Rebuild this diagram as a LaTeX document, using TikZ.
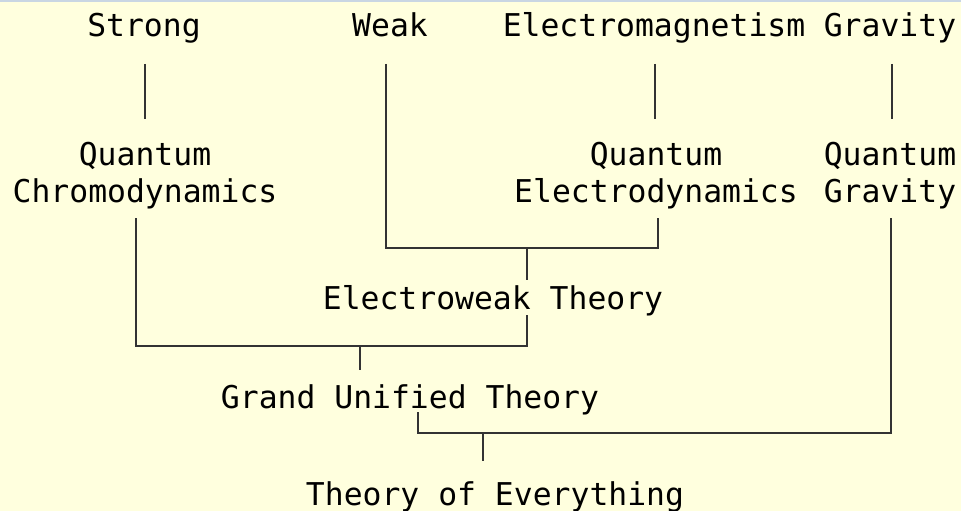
\documentclass[tikz,border=0pt]{standalone}
\usepackage{fontspec}
\setmonofont{DejaVu Sans Mono}
\definecolor{bg}{HTML}{FFFFDE}
\definecolor{ln}{HTML}{333333}
\definecolor{topbar}{HTML}{C9D6E3}
\begin{document}
\begin{tikzpicture}[x=1pt,y=-1pt,
  lbl/.style={inner sep=0pt,anchor=base,align=center,
    font=\ttfamily\fontsize{31.4pt}{37pt}\selectfont},
  conn/.style={draw=ln,line width=1.4pt}]
\fill[bg] (0,0) rectangle (961,511);
\fill[topbar] (0,0) rectangle (961,2);
\useasboundingbox (0,0) rectangle (961,511);
% labels
\node[lbl] (strong) at (144,37) {Strong};
\node[lbl] (weak) at (390,37) {Weak};
\node[lbl] (em) at (654,37) {Electromagnetism};
\node[lbl] (grav) at (890,37) {Gravity};
\node[lbl] (qcd) at (145,202) {Quantum\\Chromodynamics};
\node[lbl] (qed) at (656,202) {Quantum\\Electrodynamics};
\node[lbl] (qg) at (890,202) {Quantum\\Gravity};
\node[lbl] (ew) at (493,309) {Electroweak Theory};
\node[lbl] (gut) at (410,408) {Grand Unified Theory};
\node[lbl] (toe) at (495,505) {Theory of Everything};
% connector end points
\coordinate (s1) at (145,64);  \coordinate (s2) at (145,119);
\coordinate (e1) at (655,64);  \coordinate (e2) at (655,119);
\coordinate (g1) at (892,64);  \coordinate (g2) at (892,119);
\coordinate (w1) at (386,64);  \coordinate (wq) at (658,218);
\coordinate (wj) at (527,248); \coordinate (wd) at (527,280);
\coordinate (c1) at (136,218); \coordinate (ce) at (527,315);
\coordinate (cj) at (360,346); \coordinate (cd) at (360,370);
\coordinate (u1) at (418,412); \coordinate (uq) at (891,218);
\coordinate (uj) at (483,433); \coordinate (ud) at (483,461);
% connectors
\draw[conn] (s1) -- (s2);
\draw[conn] (e1) -- (e2);
\draw[conn] (g1) -- (g2);
\draw[conn] (w1) |- (wj) -| (wq);
\draw[conn] (wj) -- (wd);
\draw[conn] (c1) |- (cj) -| (ce);
\draw[conn] (cj) -- (cd);
\draw[conn] (u1) |- (uj) -| (uq);
\draw[conn] (uj) -- (ud);
\end{tikzpicture}
\end{document}
